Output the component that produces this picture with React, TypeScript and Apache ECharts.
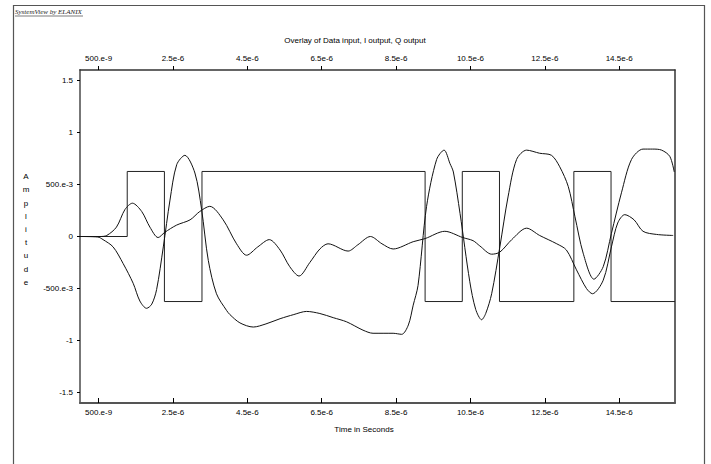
import React, { useEffect, useRef } from "react";
import * as echarts from "echarts";

// ---- Data (time in microseconds) ----
const xTickValues = [0.5, 2.5, 4.5, 6.5, 8.5, 10.5, 12.5, 14.5];
const xTickLabels = ["500.e-9", "2.5e-6", "4.5e-6", "6.5e-6", "8.5e-6", "10.5e-6", "12.5e-6", "14.5e-6"];
const yTickValues = [-1.5, -1, -0.5, 0, 0.5, 1, 1.5];
const yTickLabels = ["-1.5", "-1", "-500.e-3", "0", "500.e-3", "1", "1.5"];

// Data input: square wave, edges and levels
const dataEdges = [0, 1.27, 2.27, 3.28, 9.28, 10.28, 11.28, 13.28, 14.28, 16];
const dataLevels = [0, 0.625, -0.625, 0.625, -0.625, 0.625, -0.625, 0.625, -0.625];

// I output
const iTimes = [0, 0.48, 0.62, 0.89, 1.16, 1.43, 1.61, 1.79, 1.93, 2.06, 2.24, 2.42, 2.6, 2.82, 3.09, 3.27, 3.45, 3.67, 3.94, 4.03, 4.3, 4.66, 5.0, 5.38, 5.75, 6.09, 6.45, 6.81, 7.17, 7.61, 7.88, 8.15, 8.42, 8.65, 8.83, 8.96, 9.09, 9.32, 9.59, 9.79, 9.95, 10.04, 10.22, 10.48, 10.64, 10.8, 10.91, 11.07, 11.29, 11.51, 11.74, 12.01, 12.36, 12.68, 12.9, 13.13, 13.31, 13.53, 13.82, 14.07, 14.29, 14.56, 14.83, 15.14, 15.4, 15.64, 15.86, 15.98];
const iValues = [0, -0.005, -0.03, -0.1, -0.26, -0.45, -0.62, -0.69, -0.65, -0.51, -0.1, 0.35, 0.69, 0.78, 0.61, 0.26, -0.23, -0.55, -0.71, -0.75, -0.83, -0.87, -0.84, -0.79, -0.75, -0.72, -0.74, -0.78, -0.82, -0.9, -0.93, -0.93, -0.93, -0.94, -0.85, -0.66, -0.47, 0.29, 0.74, 0.83, 0.7, 0.62, 0.22, -0.43, -0.7, -0.8, -0.74, -0.55, -0.1, 0.38, 0.74, 0.83, 0.8, 0.78, 0.67, 0.48, 0.19, -0.16, -0.41, -0.29, 0.03, 0.42, 0.74, 0.84, 0.84, 0.83, 0.77, 0.62];

// Q output
const qTimes = [0, 0.54, 0.72, 0.98, 1.21, 1.41, 1.66, 1.88, 2.1, 2.28, 2.6, 2.96, 3.22, 3.49, 3.85, 4.21, 4.48, 4.78, 5.09, 5.38, 5.64, 5.89, 6.18, 6.45, 6.67, 7.21, 7.47, 7.81, 8.12, 8.42, 8.96, 9.28, 9.81, 10.29, 10.57, 10.75, 11.07, 11.29, 11.61, 12.01, 12.36, 12.82, 13.08, 13.35, 13.62, 13.78, 14.07, 14.29, 14.46, 14.65, 14.9, 15.14, 15.5, 15.95];
const qValues = [0, 0, 0.01, 0.09, 0.26, 0.32, 0.24, 0.09, -0.01, 0.04, 0.11, 0.16, 0.24, 0.29, 0.16, -0.07, -0.18, -0.1, -0.03, -0.13, -0.29, -0.38, -0.25, -0.12, -0.07, -0.14, -0.08, 0.0, -0.07, -0.12, -0.05, -0.02, 0.05, -0.01, -0.04, -0.09, -0.17, -0.15, -0.03, 0.08, 0.01, -0.07, -0.13, -0.32, -0.5, -0.55, -0.42, -0.1, 0.13, 0.21, 0.16, 0.05, 0.02, 0.01];

const FONT = '"Liberation Sans", Arial, sans-serif';

function labelFor(values: number[], labels: string[], v: number): string {
  for (let i = 0; i < values.length; i++) {
    if (Math.abs(values[i] - v) < 1e-6) return labels[i];
  }
  return "";
}

export default function App() {
  const ref = useRef<HTMLDivElement>(null);
  useEffect(() => {
    if (!ref.current) return;
    const chart = echarts.init(ref.current, null, { renderer: "svg" });

    const squareData: number[][] = [];
    for (let i = 0; i < dataLevels.length; i++) {
      squareData.push([dataEdges[i], dataLevels[i]]);
      squareData.push([dataEdges[i + 1], dataLevels[i]]);
    }
    const iData = iTimes.map((t, k) => [t, iValues[k]]);
    const qData = qTimes.map((t, k) => [t, qValues[k]]);

    const xCommon = {
      type: "value",
      min: 0,
      max: 16,
      splitLine: { show: false },
    };
    const yCommon = {
      type: "value",
      min: -1.6,
      max: 1.6,
      splitLine: { show: false },
    };

    chart.setOption({
      animation: false,
      backgroundColor: "#ffffff",
      grid: { left: 80, right: 36, top: 70, bottom: 61, containLabel: false },
      xAxis: [
        {
          ...xCommon,
          position: "bottom",
          axisLine: { show: true, onZero: false, lineStyle: { color: "#555", width: 2 } },
          axisTick: { show: true, inside: true, length: 5, customValues: xTickValues, lineStyle: { color: "#000", width: 1 } },
          axisLabel: {
            show: true,
            customValues: xTickValues,
            formatter: (v: number) => labelFor(xTickValues, xTickLabels, v),
            fontSize: 8,
            fontFamily: FONT,
            color: "#000",
            margin: 5,
          },
        },
        {
          ...xCommon,
          position: "top",
          axisLine: { show: true, onZero: false, lineStyle: { color: "#333", width: 1.5 } },
          axisTick: { show: true, inside: false, length: 4, customValues: xTickValues, lineStyle: { color: "#000", width: 1 } },
          axisLabel: {
            show: true,
            customValues: xTickValues,
            formatter: (v: number) => labelFor(xTickValues, xTickLabels, v),
            fontSize: 8,
            fontFamily: FONT,
            color: "#000",
            margin: 8,
          },
        },
      ],
      yAxis: [
        {
          ...yCommon,
          position: "left",
          axisLine: { show: true, onZero: false, lineStyle: { color: "#777", width: 2 } },
          axisTick: { show: true, inside: false, length: 3, customValues: yTickValues, lineStyle: { color: "#000", width: 1 } },
          axisLabel: {
            show: true,
            customValues: yTickValues,
            formatter: (v: number) => labelFor(yTickValues, yTickLabels, v),
            fontSize: 8,
            fontFamily: FONT,
            color: "#000",
            margin: 7,
          },
        },
        {
          ...yCommon,
          position: "right",
          axisLine: { show: true, onZero: false, lineStyle: { color: "#333", width: 1.5 } },
          axisTick: { show: false },
          axisLabel: { show: false },
        },
      ],
      series: [
        {
          name: "Data input",
          type: "line",
          xAxisIndex: 0,
          yAxisIndex: 0,
          data: squareData,
          showSymbol: false,
          symbol: "none",
          lineStyle: { color: "#222", width: 1 },
        },
        {
          name: "I output",
          type: "line",
          xAxisIndex: 0,
          yAxisIndex: 0,
          data: iData,
          smooth: 0.3,
          showSymbol: false,
          symbol: "none",
          lineStyle: { color: "#111", width: 1 },
        },
        {
          name: "Q output",
          type: "line",
          xAxisIndex: 0,
          yAxisIndex: 0,
          data: qData,
          smooth: 0.3,
          showSymbol: false,
          symbol: "none",
          lineStyle: { color: "#111", width: 1 },
        },
      ],
      graphic: [
        {
          type: "rect",
          shape: { x: 13.5, y: 5.5, width: 691, height: 470 },
          style: { fill: "none", stroke: "#555", lineWidth: 1.2 },
          silent: true,
        },
        {
          type: "text",
          x: 15,
          y: 12,
          style: {
            text: "SystemView by ELANIX",
            font: 'italic 7px "Liberation Serif", serif',
            fill: "#222",
            textAlign: "left",
            textVerticalAlign: "middle",
          },
        },
        {
          type: "line",
          shape: { x1: 15, y1: 16, x2: 83, y2: 16 },
          style: { stroke: "#222", lineWidth: 0.6 },
        },
        {
          type: "text",
          x: 355,
          y: 40,
          style: {
            text: "Overlay of Data input, I output, Q output",
            font: "8px " + FONT,
            fill: "#000",
            textAlign: "center",
            textVerticalAlign: "middle",
          },
        },
        {
          type: "text",
          x: 364,
          y: 429,
          style: {
            text: "Time in Seconds",
            font: "8px " + FONT,
            fill: "#000",
            textAlign: "center",
            textVerticalAlign: "middle",
          },
        },
        {
          type: "text",
          x: 26,
          y: 170,
          style: {
            text: "A\nm\np\nl\ni\nt\nu\nd\ne",
            font: "8px " + FONT,
            lineHeight: 13.2,
            fill: "#000",
            textAlign: "center",
            textVerticalAlign: "top",
          },
        },
      ],
    });

    return () => {
      chart.dispose();
    };
  }, []);

  return (
    <div
      ref={ref}
      style={{ position: "absolute", left: 0, top: 0, width: 711, height: 464, background: "#fff" }}
    />
  );
}
